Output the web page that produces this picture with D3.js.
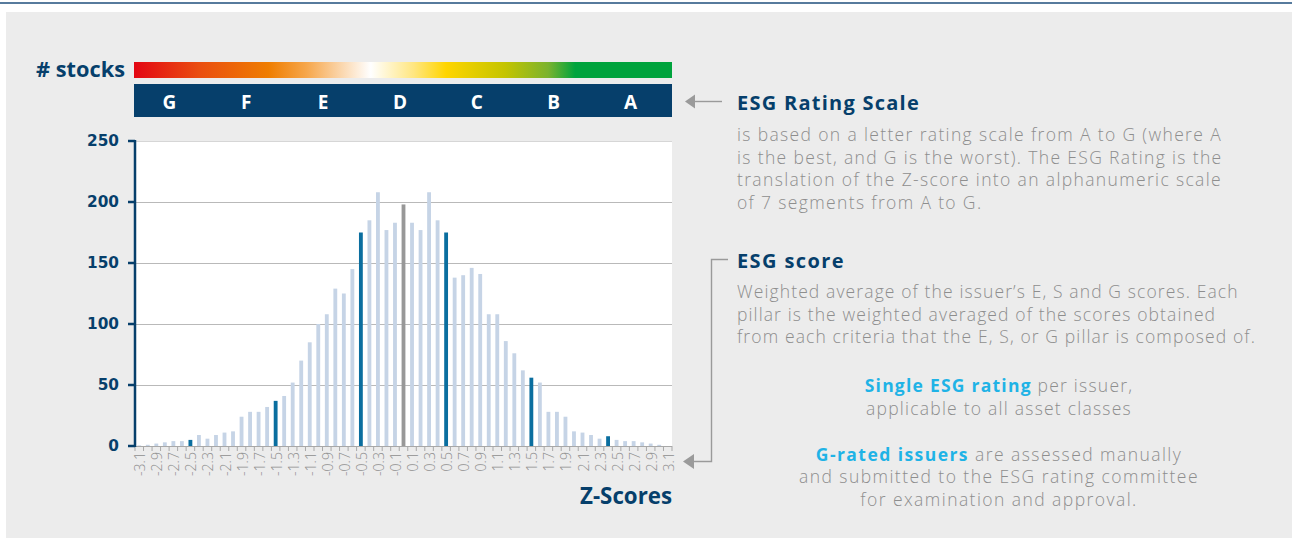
<!DOCTYPE html>
<html><head><meta charset="utf-8">
<script src="https://cdn.jsdelivr.net/npm/d3@7"></script>
<style>html,body{margin:0;padding:0;background:#fff;}svg{display:block;}</style>
</head><body><svg id="c" width="1292" height="538"></svg>
<script>
// ---------- DATA ----------
const categories = ["-3.1","-3.0","-2.9","-2.8","-2.7","-2.6","-2.5","-2.4","-2.3","-2.2","-2.1","-2.0",
 "-1.9","-1.8","-1.7","-1.6","-1.5","-1.4","-1.3","-1.2","-1.1","-1.0","-0.9","-0.8","-0.7","-0.6",
 "-0.5","-0.4","-0.3","-0.2","-0.1","0.0","0.1","0.2","0.3","0.4","0.5","0.6","0.7","0.8","0.9",
 "1.0","1.1","1.2","1.3","1.4","1.5","1.6","1.7","1.8","1.9","2.0","2.1","2.2","2.3","2.4","2.5",
 "2.6","2.7","2.8","2.9","3.0","3.1"];
const stockCounts = [0.5,1,2,3,4,4,5,9,6,9,11,12,
 24,28,28,32,37,41,52,70,85,100,108,129,125,145,
 175,185,208,177,183,198,183,177,208,185,175,138,140,146,141,
 108,108,86,76,62,56,52,28,28,24,12,11,9,6,8,5,
 4,4,3,2,1,0];
const highlightDark = ["-2.5","-1.5","-0.5","0.5","1.5","2.4"];
const highlightGray = ["0.0"];
const xTickLabels = ["-3.1","-2.9","-2.7","-2.5","-2.3","-2.1","-1.9","-1.7","-1.5","-1.3","-1.1",
 "-0.9","-0.7","-0.5","-0.3","-0.1","0.1","0.3","0.5","0.7","0.9","1.1","1.3","1.5","1.7","1.9",
 "2.1","2.3","2.5","2.7","2.9","3.1"];
const yTicks = [0,50,100,150,200,250];
const ratings = ["G","F","E","D","C","B","A"];
const scaleTitle = "ESG Rating Scale";
const scaleText = ["is based on a letter rating scale from A to G (where A",
 "is the best, and G is the worst). The ESG Rating is the",
 "translation of the Z-score into an alphanumeric scale",
 "of 7 segments from A to G."];
const scoreTitle = "ESG score";
const scoreText = ["Weighted average of the issuer\u2019s E, S and G scores. Each",
 "pillar is the weighted averaged of the scores obtained",
 "from each criteria that the E, S, or G pillar is composed of."];
const note1 = [["Single ESG rating", " per issuer,"], ["", "applicable to all asset classes"]];
const note2 = [["G-rated issuers", " are assessed manually"], ["", "and submitted to the ESG rating committee"], ["", "for examination and approval."]];

// ---------- STYLE ----------
const NAVY = "#063f6b", GRAYTXT = "#8e8e8e", CYAN = "#1fb3e6";
const BAR_LIGHT = "#c6d4e6", BAR_DARK = "#0a6e9f", BAR_GRAY = "#989898";
const FONT = "'Open Sans', Lato, sans-serif";

const svg = d3.select("#c");
svg.append("rect").attr("x",0).attr("y",0).attr("width",1292).attr("height",538).attr("fill","#fff");
svg.append("rect").attr("x",6).attr("y",12).attr("width",1286).attr("height",526).attr("fill","#ececec");
svg.append("line").attr("x1",0).attr("x2",1292).attr("y1",3).attr("y2",3).attr("stroke","#1f4f7c").attr("stroke-width",1.5);

function fit(sel, target) {
  const w = sel.node().getComputedTextLength();
  const fs = parseFloat(sel.attr("font-size"));
  return fs * target / w;
}
function fitLS(sel, target) {
  const n = sel.node();
  const w = n.getComputedTextLength();
  const chars = n.textContent.length;
  return (target - w) / chars;
}
function fitBlock(ts, refNode, target, cap) {
  const ref = d3.select(refNode);
  const fs = Math.min(cap, fit(ref, target));
  ts.attr("font-size", fs);
  ts.attr("letter-spacing", Math.max(0, fitLS(ref, target)));
}

// ---------- SCALES ----------
const L = 135, R = 672, T = 141, B = 446;
const x = d3.scaleBand().domain(categories).range([L, R]).paddingInner(0.55).paddingOuter(0.275);
const xb = d3.scaleBand().domain(categories).range([L, R]).padding(0);
const y = d3.scaleLinear().domain([0, 250]).range([B, T]);

svg.append("rect").attr("x",L).attr("y",T).attr("width",R-L).attr("height",B-T).attr("fill","#fff");
svg.append("g").selectAll("line").data(yTicks.filter(d=>d>0)).join("line")
  .attr("x1",L).attr("x2",R).attr("y1",d=>Math.round(y(d))+0.5).attr("y2",d=>Math.round(y(d))+0.5)
  .attr("stroke",d=>d===250?"#d6d6d6":"#b9b9b9").attr("stroke-width",1);

const data = categories.map((c,i)=>({c, v: stockCounts[i]}));
svg.append("g").selectAll("rect").data(data).join("rect")
  .attr("x", d=>x(d.c)).attr("width", x.bandwidth())
  .attr("y", d=>y(d.v)).attr("height", d=>B - y(d.v))
  .attr("fill", d=> highlightDark.includes(d.c) ? BAR_DARK : highlightGray.includes(d.c) ? BAR_GRAY : BAR_LIGHT);

// x axis
const xa = svg.append("g");
xa.append("line").attr("x1",L).attr("x2",R).attr("y1",B+0.5).attr("y2",B+0.5).attr("stroke","#a8a8a8");
const bounds = categories.map(c=>xb(c)).concat([R]);
xa.selectAll("line.t").data(bounds).join("line").attr("class","t")
  .attr("x1",d=>d).attr("x2",d=>d).attr("y1",B).attr("y2",B+5).attr("stroke","#a8a8a8");
const xl = xa.selectAll("text").data(xTickLabels).join("text")
  .attr("transform", d=>`translate(${x(d)+x.bandwidth()/2+0.5},452) rotate(-90)`)
  .attr("text-anchor","end").attr("dominant-baseline","central")
  .attr("font-family",FONT).attr("font-weight",300).attr("font-size",14).attr("fill","#8f8f8f").text(d=>d);
{ const s = xl.filter(d=>d==="-3.1"); xl.attr("font-size", Math.min(15.5, fit(s, 24))); }

// y axis
const ya = svg.append("g");
ya.append("line").attr("x1",L).attr("x2",L).attr("y1",T-1).attr("y2",B+1).attr("stroke",NAVY).attr("stroke-width",2.5);
ya.selectAll("line.t").data(yTicks).join("line").attr("class","t")
  .attr("x1",L-7).attr("x2",L).attr("y1",d=>y(d)).attr("y2",d=>y(d)).attr("stroke",NAVY).attr("stroke-width",2.5);
const yl = ya.selectAll("text").data(yTicks).join("text")
  .attr("x",119).attr("y",d=>y(d)).attr("text-anchor","end").attr("dominant-baseline","central")
  .attr("font-family","'DejaVu Sans', sans-serif").attr("font-weight","bold").attr("font-size",15).attr("fill",NAVY).text(d=>d);
{ const s = yl.filter(d=>d===250); yl.attr("font-size", fit(s, 32)); }

const zt = svg.append("text").attr("x",R).attr("y",504).attr("text-anchor","end")
  .attr("font-family",FONT).attr("font-weight",700).attr("font-size",20).attr("fill",NAVY).text("Z-Scores");
zt.attr("font-size", fit(zt, 92));

const st = svg.append("text").attr("x",125).attr("y",77).attr("text-anchor","end")
  .attr("font-family",FONT).attr("font-weight",700).attr("font-size",19).attr("fill",NAVY).text("# stocks");
st.attr("font-size", fit(st, 89));

// gradient bar
const defs = svg.append("defs");
const grad = defs.append("linearGradient").attr("id","rg").attr("x1","0%").attr("x2","100%");
[[0,"#e30613"],[0.12,"#ea4d10"],[0.25,"#ef7d00"],[0.32,"#f6a64a"],[0.44,"#ffffff"],[0.52,"#ffe680"],
 [0.58,"#ffd500"],[0.69,"#c4c400"],[0.77,"#7ab32e"],[0.82,"#00a33d"],[1,"#00a33d"]]
 .forEach(([o,c])=>grad.append("stop").attr("offset",o).attr("stop-color",c));
svg.append("rect").attr("x",134).attr("y",62).attr("width",R-134).attr("height",16).attr("fill","url(#rg)");

// rating band
const rs = d3.scaleBand().domain(ratings).range([134, R]);
svg.append("rect").attr("x",134).attr("y",84).attr("width",R-134).attr("height",33).attr("fill",NAVY);
svg.append("g").selectAll("text").data(ratings).join("text")
  .attr("x",d=>rs(d)+rs.bandwidth()/2-3).attr("y",102).attr("text-anchor","middle").attr("dominant-baseline","central")
  .attr("font-family",FONT).attr("font-weight",700).attr("font-size",19).attr("fill","#fff").text(d=>d);

// ---------- RIGHT TEXT ----------
const ARROW = "#9a9a9a";
svg.append("line").attr("x1",693).attr("x2",722).attr("y1",101.5).attr("y2",101.5).attr("stroke",ARROW).attr("stroke-width",1.4);
svg.append("path").attr("d","M685,101.5 L695,94.5 L695,108.5 Z").attr("fill",ARROW);
svg.append("path").attr("d","M728,259.5 L711.5,259.5 L711.5,461.5 L693,461.5").attr("fill","none").attr("stroke",ARROW).attr("stroke-width",1.4);
svg.append("path").attr("d","M683,461.5 L694,454 L694,469 Z").attr("fill",ARROW);

const t1 = svg.append("text").attr("x",737).attr("y",110).attr("font-family",FONT).attr("font-weight",700)
  .attr("font-size",19).attr("fill",NAVY).text(scaleTitle);
fitBlock(t1, t1.node(), 183, 20);
const t2 = svg.append("text").attr("x",737).attr("y",268).attr("font-family",FONT).attr("font-weight",700)
  .attr("font-size",19).attr("fill",NAVY).text(scoreTitle);
fitBlock(t2, t2.node(), 108, 20);

function para(lines, x0, y0, lh, refIdx, refW) {
  const g = svg.append("g");
  const ts = g.selectAll("text").data(lines).join("text")
    .attr("x",x0).attr("y",(d,i)=>y0+i*lh).attr("font-family",FONT).attr("font-weight",300)
    .attr("font-size",16).attr("fill",GRAYTXT).text(d=>d);
  fitBlock(ts, ts.nodes()[refIdx], refW, 17.5);
}
para(scaleText, 737, 141, 22.5, 0, 485);
para(scoreText, 737, 298, 22.5, 2, 519);

function note(lines, y0, lh, refIdx, refW) {
  const g = svg.append("g");
  const ts = g.selectAll("text").data(lines).join("text")
    .attr("x",999).attr("y",(d,i)=>y0+i*lh).attr("text-anchor","middle")
    .attr("font-family",FONT).attr("font-size",16);
  ts.each(function(d){
    const el = d3.select(this);
    if (d[0]) el.append("tspan").attr("font-weight",700).attr("fill",CYAN).text(d[0]);
    el.append("tspan").attr("font-weight",300).attr("fill",GRAYTXT).text(d[1]);
  });
  fitBlock(ts, ts.nodes()[refIdx], refW, 17.5);
}
note(note1, 392, 22.5, 1, 266);
note(note2, 460.5, 22.5, 1, 400);
</script></body></html>
